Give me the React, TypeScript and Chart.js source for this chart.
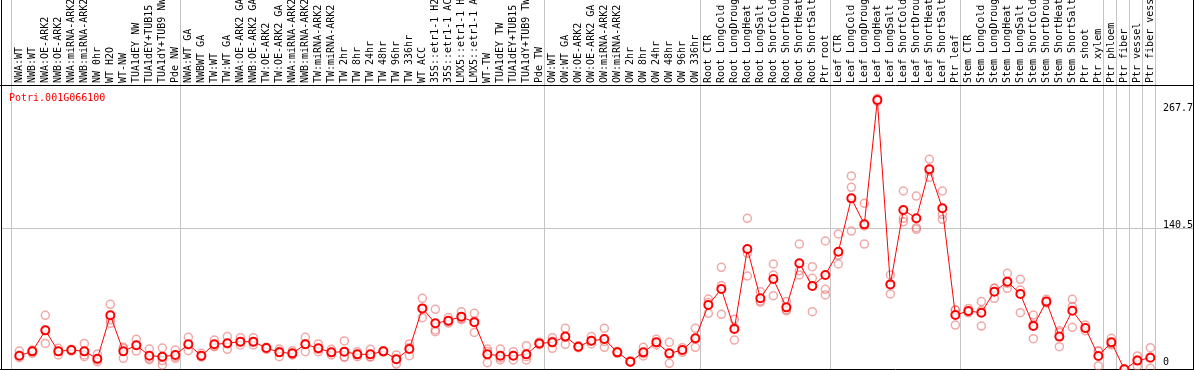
import React, { useEffect, useRef } from "react";
import { Chart, registerables } from "chart.js";

Chart.register(...registerables);

const TITLE = "Potri.001G066100";

const categories: string[] = [
  "NWA:WT", "NWB:WT", "NWA:OE-ARK2", "NWB:OE-ARK2", "NWA:miRNA-ARK2", "NWB:miRNA-ARK2",
  "NW 0hr", "WT H2O", "WT-NW", "TUA1dEY NW", "TUA1dEY+TUB15", "TUA1dY+TUB9 NW", "Pde NW",
  "NWA:WT GA", "NWBWT GA", "TW:WT", "TW:WT GA", "NWA:OE-ARK2 GA", "NWB:OE-ARK2 GA",
  "TW:OE-ARK2", "TW:OE-ARK2 GA", "NWA:miRNA-ARK2", "NWB:miRNA-ARK2", "TW:miRNA-ARK2",
  "TW:miRNA-ARK2", "TW 2hr", "TW 8hr", "TW 24hr", "TW 48hr", "TW 96hr", "TW 336hr",
  "WT ACC", "35S::etr1-1 H2", "35S::etr1-1 AC", "LMX5::etr1-1 H", "LMX5::etr1-1 A",
  "WT-TW", "TUA1dEY TW", "TUA1dEY+TUB15", "TUA1dY+TUB9 TW", "Pde TW",
  "OW:WT", "OW:WT GA", "OW:OE-ARK2", "OW:OE-ARK2 GA", "OW:miRNA-ARK2", "OW:miRNA-ARK2",
  "OW 2hr", "OW 8hr", "OW 24hr", "OW 48hr", "OW 96hr", "OW 336hr",
  "Root CTR", "Root LongCold", "Root LongDroug", "Root LongHeat", "Root LongSalt",
  "Root ShortCold", "Root ShortDrou", "Root ShortHeat", "Root ShortSalt", "Ptr root",
  "Leaf CTR", "Leaf LongCold", "Leaf LongDroug", "Leaf LongHeat", "Leaf LongSalt",
  "Leaf ShortCold", "Leaf ShortDrou", "Leaf ShortHeat", "Leaf ShortSalt", "Ptr leaf",
  "Stem CTR", "Stem LongCold", "Stem LongDroug", "Stem LongHeat", "Stem LongSalt",
  "Stem ShortCold", "Stem ShortDrou", "Stem ShortHeat", "Stem ShortSalt", "Ptr shoot",
  "Ptr xylem", "Ptr phloem", "Ptr fiber", "Ptr vessel", "Ptr fiber vess",
];

const means: number[] = [
  14.2, 18.5, 39.3, 18.5, 19.8, 18.5, 11.2, 54.2, 18.5, 24.5, 14.2, 13.2, 14.9,
  25.5, 14.2, 25.5, 26.5, 28.1, 28.1, 21.8, 17.5, 16.5, 25.5, 21.5, 17.5, 18.2,
  15.5, 15.5, 18.5, 10.6, 20.8, 61.1, 46.3, 48.9, 52.9, 47.3, 15.5, 14.2, 14.2,
  15.5, 26.4, 27.4, 33.1, 23.1, 29.1, 30.7, 17.5, 8.3, 17.5, 27.4, 16.5, 19.8,
  31.4, 64.5, 80.3, 40.7, 120.0, 71.1, 90.2, 62.1, 105.8, 83.3, 94.2, 117.3,
  170.2, 144.4, 267.7, 84.9, 158.7, 150.4, 199.0, 160.3, 54.5, 58.5, 56.8, 77.7,
  87.6, 75.4, 43.6, 67.8, 33.1, 58.8, 41.6, 13.9, 27.4, 0.7, 9.3, 12.2,
];

const replicates: number[][] = [
  [18.8, 14.2, 12.2], [19.8, 16.5, 18.5], [54.2, 39.3, 26.4], [21.5, 18.5, 14.9],
  [20.5, 18.8, 19.5], [26.4, 14.9, 13.2], [15.9, 9.9, 8.3], [65.1, 49.6, 46.3],
  [22.5, 11.6, 21.4], [30.4, 18.8, 24.3], [20.8, 11.6, 10.2], [21.8, 13.2, 9.3, 5.0],
  [19.8, 11.6, 13.2], [32.4, 19.2, 25.0], [16.5, 13.2, 13.0], [29.7, 23.1, 23.7],
  [33.1, 20.5, 26.0], [32.1, 24.8, 27.4], [32.1, 24.8, 27.4], [22.5, 20.5, 22.4],
  [20.8, 13.2, 18.5], [19.2, 14.9, 15.4], [32.4, 18.2, 26.0], [25.8, 18.2, 20.5],
  [20.5, 14.9, 17.1], [28.8, 13.2, 12.6], [18.2, 13.2, 15.1], [20.5, 13.2, 12.8],
  [19.2, 18.5, 17.8], [14.9, 5.9, 11.0], [25.8, 14.2, 22.4], [71.1, 51.9, 60.3],
  [60.2, 39.7, 38.0], [48.0, 46.5, 52.0], [57.8, 50.0, 51.0], [56.2, 37.3, 48.4],
  [20.8, 7.3, 18.4], [20.8, 9.9, 12.0], [18.2, 9.9, 14.5], [24.1, 13.2, 9.9],
  [26.4, 25.0, 27.8], [32.1, 21.5, 28.6], [41.3, 25.5, 32.5], [24.0, 22.0, 23.5],
  [33.1, 25.8, 28.4], [41.3, 22.5, 28.3], [18.5, 16.5, 17.5], [9.2, 7.5, 8.2],
  [22.5, 13.9, 16.1], [30.4, 24.8, 27.0], [27.4, 6.6, 15.5], [22.1, 17.5, 19.8],
  [41.3, 22.5, 30.4], [70.4, 56.2, 66.9], [101.8, 83.6, 55.2], [50.2, 29.7, 42.2],
  [150.4, 93.2, 115.7], [77.7, 68.4, 67.2], [105.1, 94.2, 73.7], [67.8, 58.8, 59.7],
  [124.9, 94.2, 98.3], [102.5, 90.9, 57.8], [127.9, 80.0, 74.4], [134.9, 114.0, 105.1],
  [192.4, 181.1, 137.8], [165.3, 142.8, 124.9], [269.4, 267.7, 266.1], [94.2, 75.4, 85.1],
  [177.5, 150.4, 147.1], [172.5, 141.1, 139.5], [208.9, 191.0, 197.1], [177.5, 154.4, 149.4],
  [59.5, 44.6, 59.4], [61.1, 56.8, 57.6], [67.8, 43.6, 59.0], [81.0, 71.1, 81.0],
  [95.9, 81.0, 85.9], [89.9, 79.3, 56.8], [54.5, 31.1, 45.2], [70.1, 66.5, 66.8],
  [39.0, 23.1, 37.2], [70.1, 62.8, 42.3], [44.6, 39.0, 41.2], [19.2, 4.0, 18.5],
  [31.4, 25.8, 25.0], [0.5, 0.3, 1.2], [13.9, 4.0, 10.0], [22.1, 1.7, 12.8],
];

// index where each sample group starts (separator lines drawn before these)
const groupStarts: number[] = [0, 13, 41, 53, 63, 73, 84, 85, 86, 87, 88];
const yTickValues: number[] = [267.7, 140.5, 0];
const yGridValues: number[] = [140.5];

const FONT = '10px "DejaVu Sans Mono", "Liberation Mono", monospace';

const decorPlugin = {
  id: "decor",
  beforeDatasetsDraw(chart: any) {
    const { ctx, chartArea, scales } = chart;
    const xs = scales.x;
    const ys = scales.y;
    const W = chart.width;
    const H = chart.height;
    ctx.save();
    // grey separators
    ctx.strokeStyle = "#c4c4c4";
    ctx.lineWidth = 1;
    groupStarts.forEach((g) => {
      const x = Math.round(xs.getPixelForValue(g - 0.63)) + 0.5;
      ctx.beginPath();
      ctx.moveTo(x, 0);
      ctx.lineTo(x, H);
      ctx.stroke();
    });
    yGridValues.forEach((v) => {
      const y = Math.round(ys.getPixelForValue(v)) + 0.5;
      ctx.beginPath();
      ctx.moveTo(chartArea.left, y);
      ctx.lineTo(chartArea.right, y);
      ctx.stroke();
    });
    // black frame
    ctx.strokeStyle = "#000";
    ctx.beginPath();
    ctx.moveTo(1.5, 0);
    ctx.lineTo(1.5, H);
    ctx.moveTo(W - 0.5, 0);
    ctx.lineTo(W - 0.5, H);
    ctx.moveTo(0, chartArea.top - 0.5);
    ctx.lineTo(W, chartArea.top - 0.5);
    ctx.moveTo(0, H - 0.5);
    ctx.lineTo(W, H - 0.5);
    ctx.stroke();
    // category labels (rotated)
    ctx.font = FONT;
    ctx.fillStyle = "#000";
    ctx.textAlign = "left";
    ctx.textBaseline = "middle";
    categories.forEach((c, i) => {
      const x = xs.getPixelForValue(i);
      ctx.save();
      ctx.translate(x, chartArea.top - 3);
      ctx.rotate(-Math.PI / 2);
      ctx.fillText(c, 0, 0.5);
      ctx.restore();
    });
    // title
    ctx.fillStyle = "#ff0000";
    ctx.textBaseline = "alphabetic";
    ctx.fillText(TITLE, 9, chartArea.top + 15);
    // y value labels
    ctx.fillStyle = "#000";
    yTickValues.forEach((v) => {
      let y = ys.getPixelForValue(v);
      y = Math.min(Math.max(y, chartArea.top + 24.5), chartArea.bottom - 5);
      ctx.fillText(String(v), 1163, y);
    });
    ctx.restore();
  },
};

export default function App() {
  const ref = useRef<HTMLCanvasElement | null>(null);
  useEffect(() => {
    if (!ref.current) return;
    const repPoints: { x: number; y: number }[] = [];
    replicates.forEach((arr, i) => arr.forEach((v) => repPoints.push({ x: i, y: v })));
    const meanPoints = means.map((v, i) => ({ x: i, y: v }));
    const chart = new Chart(ref.current, {
      type: "line",
      data: {
        datasets: [
          {
            type: "line",
            data: meanPoints,
            borderColor: "#ff0000",
            borderWidth: 1,
            pointRadius: 4,
            pointBorderWidth: 2,
            pointBorderColor: "#ff0000",
            pointBackgroundColor: "rgba(255,255,255,0.85)",
            tension: 0,
            order: 1,
          },
          {
            type: "scatter",
            data: repPoints,
            showLine: false,
            pointRadius: 4,
            pointBorderWidth: 1.5,
            pointBorderColor: "rgba(232,110,110,0.6)",
            pointBackgroundColor: "rgba(0,0,0,0)",
            order: 2,
          },
        ],
      } as any,
      options: {
        animation: false,
        responsive: false,
        devicePixelRatio: 1,
        layout: { autoPadding: false, padding: { left: 1, right: 1, top: 86, bottom: 0 } },
        plugins: { legend: { display: false }, tooltip: { enabled: false }, title: { display: false } },
        scales: {
          x: { type: "linear", min: -1.41, max: 90.28, display: false },
          y: { type: "linear", min: 0, max: 281.6, display: false },
        },
      } as any,
      plugins: [decorPlugin],
    });
    return () => chart.destroy();
  }, []);
  return (
    <div style={{ position: "absolute", left: 0, top: 0, width: 1194, height: 370, background: "#fff" }}>
      <canvas ref={ref} width={1194} height={370} />
    </div>
  );
}
